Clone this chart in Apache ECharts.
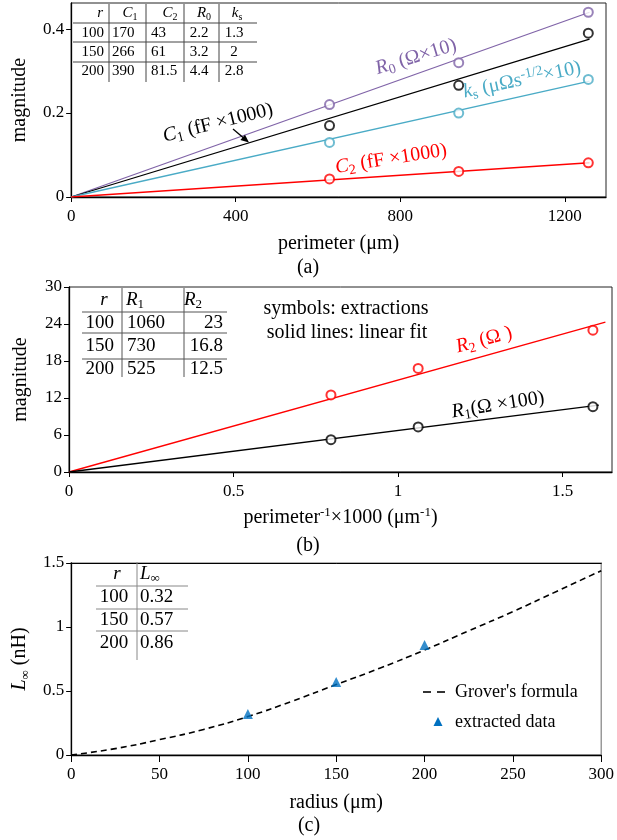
<!DOCTYPE html>
<html><head><meta charset="utf-8">
<script src="https://cdn.jsdelivr.net/npm/echarts@6/dist/echarts.min.js"></script>
<style>html,body{margin:0;padding:0;background:#fff}#c{width:617px;height:840px}</style>
</head><body><div id="c"></div>
<script>
// ---------- data ----------
const radius = [100, 150, 200];
const perimeter = [628, 942, 1257];          // µm
const invPerimeter = [1.592, 1.061, 0.796];  // perimeter^-1 x 1000
const C1 = [170, 266, 390];
const C2 = [43, 61, 81.5];
const R0 = [2.2, 3.2, 4.4];
const ks = [1.3, 2, 2.8];
const R1 = [1060, 730, 525];
const R2 = [23, 16.8, 12.5];
const Linf = [0.32, 0.57, 0.86];
// linear-fit end points
const fitEndXA = 1260;
const fitR0End = 0.440, fitC1End = 0.376, fitKsEnd = 0.276, fitC2End = 0.0816;
const fitR2End = [1.63, 24.3];
const fitR1End = [1.61, 10.85];
// Grover's formula curve
const groverR = [0, 25, 50, 75, 100, 125, 150, 175, 200, 225, 250, 275, 300];
const groverL = [0, 0.05, 0.12, 0.2, 0.3, 0.42, 0.55, 0.68, 0.82, 0.97, 1.12, 1.28, 1.44];
// tick labels
const xTicksA = [0, 400, 800, 1200];
const yTicksA = [0, 0.2, 0.4];
const xTicksB = [0, 0.5, 1, 1.5];
const yTicksB = [0, 6, 12, 18, 24, 30];
const xTicksC = [0, 50, 100, 150, 200, 250, 300];
const yTicksC = [0, 0.5, 1, 1.5];

// ---------- styling ----------
const FAM = '"Liberation Serif"';
const F = '"Liberation Serif", "Times New Roman", serif';
const PURPLE = '#8064a8', CYAN = '#4aabc6', RED = '#ff0000', BLACK = '#000000', BLUE = '#0070c0';

function gRich(size, color) {
  const s = Math.round(size * 0.68);
  return {
    i: {font: `italic ${size}px ${FAM}`, fill: color, lineHeight: size + 4},
    n: {font: `${size}px ${FAM}`, fill: color, lineHeight: size + 4},
    sub: {font: `${s}px ${FAM}`, fill: color, verticalAlign: 'bottom', lineHeight: Math.round(size * 0.62)},
    sup: {font: `${s}px ${FAM}`, fill: color, verticalAlign: 'top', lineHeight: Math.round(size * 0.62)}
  };
}
function T(x, y, text, size, color, align, rotDeg) {
  return {
    type: 'text', x: x, y: y, rotation: (rotDeg || 0) * Math.PI / 180, z: 100,
    style: {
      text: text, font: `${size}px ${FAM}`, fill: color || '#000',
      align: align || 'center', textAlign: align || 'center',
      verticalAlign: 'middle', textVerticalAlign: 'middle',
      lineHeight: size + 4, rich: gRich(size, color || '#000')
    }
  };
}
function L(x1, y1, x2, y2, color, w) {
  return {type: 'line', z: 100, shape: {x1, y1, x2, y2}, style: {stroke: color, lineWidth: w || 1}};
}

function eRich(size) {
  const s = Math.round(size * 0.65);
  return {
    i: {fontStyle: 'italic', fontSize: size, fontFamily: F, color: '#000', lineHeight: size + 4},
    sub: {fontSize: s, fontFamily: F, color: '#000', verticalAlign: 'bottom', lineHeight: Math.round(size * 0.6)},
    sup: {fontSize: s, fontFamily: F, color: '#000', verticalAlign: 'top', lineHeight: Math.round(size * 0.6)}
  };
}
const plain = v => String(v);
function xAx(grid, min, max, ticks, name, gap, tickLen) {
  return {
    type: 'value', gridIndex: grid, min: min, max: max, position: 'bottom',
    splitLine: {show: false},
    axisLine: {show: true, onZero: false, lineStyle: {color: '#000', width: 1.3}},
    axisTick: {show: true, inside: false, length: tickLen || 5, customValues: ticks, lineStyle: {color: '#000'}},
    axisLabel: {customValues: ticks, formatter: plain, color: '#000', fontFamily: F, fontSize: 17, margin: 11},
    name: name, nameLocation: 'middle', nameGap: gap,
    nameTextStyle: {color: '#000', fontFamily: F, fontSize: 20, lineHeight: 24, rich: eRich(20)}
  };
}
function yAx(grid, min, max, ticks, name, gap) {
  return {
    type: 'value', gridIndex: grid, min: min, max: max, position: 'left',
    splitLine: {show: false},
    axisLine: {show: true, onZero: false, lineStyle: {color: '#000', width: 1.3}},
    axisTick: {show: true, inside: false, length: 5, customValues: ticks, lineStyle: {color: '#000'}},
    axisLabel: {customValues: ticks, formatter: plain, color: '#000', fontFamily: F, fontSize: 17, margin: 7},
    name: name, nameLocation: 'middle', nameGap: gap,
    nameTextStyle: {color: '#000', fontFamily: F, fontSize: 20, lineHeight: 24, rich: eRich(20)}
  };
}

function fitLine(name, xi, yi, pts, color) {
  return {name: name, type: 'line', xAxisIndex: xi, yAxisIndex: yi, data: pts, symbol: 'none',
    lineStyle: {color: color, width: 1.3}, itemStyle: {color: color}, silent: true, z: 3};
}
function pts(name, xi, yi, data, color) {
  return {name: name, type: 'scatter', xAxisIndex: xi, yAxisIndex: yi, data: data,
    symbol: 'emptyCircle', symbolSize: 9, itemStyle: {color: color, borderColor: color, borderWidth: 1}, z: 4};
}

// ---------- tables (graphic text built from the data arrays) ----------
const graphic = [];
// table (a)
(function () {
  const c = '#444', fs = 15;
  [109, 146, 184, 219].forEach(x => graphic.push(L(x, 4, x, 82, c, 1)));
  [23, 42, 62].forEach(y => graphic.push(L(73, y, 257, y, c, 1)));
  const hy = 13, rows = [33, 52, 71];
  graphic.push(T(103, hy, '{i|r}', fs, '#000', 'right'));
  graphic.push(T(130, hy, '{i|C}{sub|1}', fs, '#000', 'center'));
  graphic.push(T(170, hy, '{i|C}{sub|2}', fs, '#000', 'center'));
  graphic.push(T(204, hy, '{i|R}{sub|0}', fs, '#000', 'center'));
  graphic.push(T(237, hy, '{i|k}{sub|s}', fs, '#000', 'center'));
  rows.forEach((y, i) => {
    graphic.push(T(104, y, String(radius[i]), fs, '#000', 'right'));
    graphic.push(T(112, y, String(C1[i]), fs, '#000', 'left'));
    graphic.push(T(151, y, String(C2[i]), fs, '#000', 'left'));
    graphic.push(T(199, y, String(R0[i]), fs, '#000', 'center'));
    graphic.push(T(234, y, String(ks[i]), fs, '#000', 'center'));
  });
})();
// table (b)
(function () {
  const c = '#555', fs = 19;
  [122, 184].forEach(x => graphic.push(L(x, 288, x, 377, c, 1)));
  [312, 333, 359].forEach(y => graphic.push(L(82, y, 227, y, c, 1)));
  const hy = 300, rows = [323, 346, 369];
  graphic.push(T(104, hy, '{i|r}', fs, '#000', 'center'));
  graphic.push(T(126, hy, '{i|R}{sub|1}', fs, '#000', 'left'));
  graphic.push(T(184, hy, '{i|R}{sub|2}', fs, '#000', 'left'));
  rows.forEach((y, i) => {
    graphic.push(T(114, y, String(radius[i]), fs, '#000', 'right'));
    graphic.push(T(127, y, String(R1[i]), fs, '#000', 'left'));
    graphic.push(T(223, y, String(R2[i]), fs, '#000', 'right'));
  });
})();
// table (c)
(function () {
  const c = '#888', fs = 19;
  graphic.push(L(137, 562, 137, 660, c, 1));
  [586, 609, 631].forEach(y => graphic.push(L(96, y, 188, y, c, 1)));
  const hy = 574, rows = [597, 620, 643];
  graphic.push(T(117, hy, '{i|r}', fs, '#000', 'center'));
  graphic.push(T(140, hy, '{i|L}{sub|∞}', fs, '#000', 'left'));
  rows.forEach((y, i) => {
    graphic.push(T(114, y, String(radius[i]), fs, '#000', 'center'));
    graphic.push(T(140, y, Linf[i].toFixed(2), fs, '#000', 'left'));
  });
})();
// annotations
graphic.push(T(416, 57, '{i|R}{sub|0} (Ω×10)', 20, PURPLE, 'center', 17));
graphic.push(T(218, 123, '{i|C}{sub|1} (fF ×1000)', 20, BLACK, 'center', 14));
graphic.push(T(522, 80, '{i|k}{sub|s} (μΩs{sup|-1/2}×10)', 20, CYAN, 'center', 12));
graphic.push(T(391, 159, '{i|C}{sub|2} (fF ×1000)', 20, RED, 'center', 9));
graphic.push(T(484, 340, '{i|R}{sub|2} (Ω )', 20, RED, 'center', 15));
graphic.push(T(498, 405, '{i|R}{sub|1}(Ω ×100)', 20, BLACK, 'center', 9));
graphic.push(T(346, 309, 'symbols: extractions', 20, BLACK, 'center'));
graphic.push(T(347, 333, 'solid lines: linear fit', 20, BLACK, 'center'));
// arrow for C1 label
graphic.push(L(233, 129, 246, 140, BLACK, 1.3));
graphic.push({type: 'polygon', z: 100, shape: {points: [[249, 142.5], [240.4, 140.1], [245, 134.7]]}, style: {fill: BLACK}});
// legend of panel (c)
graphic.push(L(423, 692, 431, 692, BLACK, 1.6));
graphic.push(L(437, 692, 445, 692, BLACK, 1.6));
graphic.push(T(455, 692, "Grover's formula", 18, BLACK, 'left'));
graphic.push({type: 'polygon', z: 100, shape: {points: [[438, 717], [433.5, 726], [442.5, 726]]}, style: {fill: BLUE}});
graphic.push(T(455, 722, 'extracted data', 18, BLACK, 'left'));
// panel captions
graphic.push(T(308, 268, '(a)', 20, BLACK, 'center'));
graphic.push(T(308, 546, '(b)', 20, BLACK, 'center'));
graphic.push(T(309, 826, '(c)', 20, BLACK, 'center'));

const option = {
  animation: false,
  backgroundColor: '#fff',
  grid: [
    {left: 71, top: 3, right: 11, bottom: 643, show: true, borderColor: '#222', borderWidth: 1},
    {left: 69, top: 287, right: 5, bottom: 368, show: true, borderColor: '#222', borderWidth: 1},
    {left: 71, top: 563, right: 12, bottom: 85, show: true, borderColor: '#999', borderWidth: 1.5}
  ],
  xAxis: [
    xAx(0, 0, 1300, xTicksA, 'perimeter (μm)', 35),
    xAx(1, 0, 1.65, xTicksB, 'perimeter{sup|-1}×1000 (μm{sup|-1})', 34),
    xAx(2, 0, 300, xTicksC, 'radius (μm)', 36, 7),
    {type: 'value', gridIndex: 2, min: 0, max: 300, position: 'top', axisLine: {show: true, onZero: false, lineStyle: {color: '#000', width: 1}},
      axisTick: {show: false}, axisLabel: {show: false}, splitLine: {show: false}}
  ],
  yAxis: [
    yAx(0, 0, 0.462, yTicksA, 'magnitude', 38),
    yAx(1, 0, 30, yTicksB, 'magnitude', 36),
    yAx(2, 0, 1.5, yTicksC, '{i|L}{sub|∞} (nH)', 34)
  ],
  graphic: graphic,
  series: [
    fitLine('R0fit', 0, 0, [[0, 0], [fitEndXA, fitR0End]], PURPLE),
    fitLine('C1fit', 0, 0, [[0, 0], [fitEndXA, fitC1End]], BLACK),
    fitLine('ksfit', 0, 0, [[0, 0], [fitEndXA, fitKsEnd]], CYAN),
    fitLine('C2fit', 0, 0, [[0, 0], [fitEndXA, fitC2End]], RED),
    pts('R0', 0, 0, perimeter.map((p, i) => [p, R0[i] / 10]), PURPLE),
    pts('C1', 0, 0, perimeter.map((p, i) => [p, C1[i] / 1000]), BLACK),
    pts('ks', 0, 0, perimeter.map((p, i) => [p, ks[i] / 10]), CYAN),
    pts('C2', 0, 0, perimeter.map((p, i) => [p, C2[i] / 1000]), RED),
    fitLine('R2fit', 1, 1, [[0, 0], fitR2End], RED),
    fitLine('R1fit', 1, 1, [[0, 0], fitR1End], BLACK),
    pts('R2', 1, 1, invPerimeter.map((p, i) => [p, R2[i]]), RED),
    pts('R1', 1, 1, invPerimeter.map((p, i) => [p, R1[i] / 100]), BLACK),
    {name: "Grover's formula", type: 'line', xAxisIndex: 2, yAxisIndex: 2, smooth: true,
      data: groverR.map((r, i) => [r, groverL[i]]), symbol: 'none',
      lineStyle: {color: '#000', width: 1.6, type: [6, 4]}, itemStyle: {color: '#000'}, z: 3},
    {name: 'extracted data', type: 'scatter', xAxisIndex: 2, yAxisIndex: 2,
      data: radius.map((r, i) => [r, Linf[i]]), symbol: 'triangle', symbolSize: 10,
      itemStyle: {color: BLUE}, z: 4}
  ]
};
const chart = echarts.init(document.getElementById('c'), null, {renderer: 'canvas'});
chart.setOption(option);
</script>
</body></html>
